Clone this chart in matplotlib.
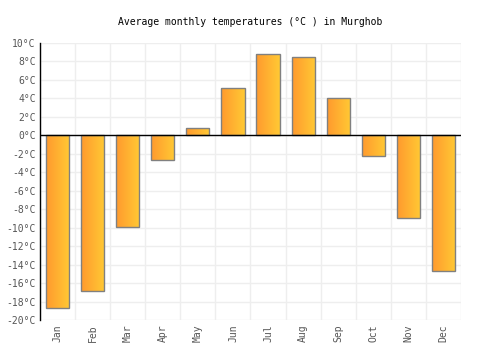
import matplotlib.pyplot as plt
import numpy as np
from matplotlib.colors import LinearSegmentedColormap

months = ['Jan', 'Feb', 'Mar', 'Apr', 'May', 'Jun', 'Jul', 'Aug', 'Sep', 'Oct', 'Nov', 'Dec']
temps = [-18.7, -16.9, -9.9, -2.7, 0.8, 5.1, 8.8, 8.5, 4.0, -2.2, -8.9, -14.7]
y_ticks = list(range(-20, 11, 2))

plt.rcParams['font.family'] = 'DejaVu Sans Mono'

fig = plt.figure(figsize=(5, 3.5), dpi=100)
ax = fig.add_axes([0.08, 0.0857, 0.842, 0.7914])

x = np.arange(len(months))
bars = ax.bar(x, temps, width=0.66, color='none', edgecolor='#808080', linewidth=1, zorder=3)

# horizontal gradient fill, clipped to each bar
cmap = LinearSegmentedColormap.from_list('orange', ['#ff9a2e', '#ffc934'])
grad = np.linspace(0, 1, 64).reshape(1, -1)
for b in bars:
    bx, by = b.get_x(), b.get_y()
    w, h = b.get_width(), b.get_height()
    im = ax.imshow(grad, cmap=cmap, aspect='auto', zorder=2,
                   extent=[bx, bx + w, by, by + h], interpolation='bilinear')
    im.set_clip_path(b)

ax.set_xlim(-0.5, len(months) - 0.5)
ax.set_ylim(-20, 10)

ax.set_xticks(x)
ax.set_xticklabels(months, rotation=90)
ax.set_yticks(y_ticks)
ax.set_yticklabels([f'{t}°C' for t in y_ticks])
ax.tick_params(length=0, labelsize=7, colors='#555555', pad=3)

# grid: column boundaries and every 2 degrees
for xb in np.arange(-0.5, len(months), 1.0):
    ax.axvline(xb, color='#eeeeee', linewidth=1, zorder=0)
for t in y_ticks:
    ax.axhline(t, color='#eeeeee', linewidth=1, zorder=0)
ax.axhline(0, color='black', linewidth=1, zorder=4)

for s in ['top', 'right', 'bottom']:
    ax.spines[s].set_visible(False)
ax.spines['left'].set_color('black')
ax.spines['left'].set_linewidth(1)

fig.text(0.5, 0.937, 'Average monthly temperatures (°C ) in Murghob',
         ha='center', va='center', fontsize=7, color='black')

fig.savefig('out.png', dpi=100)
